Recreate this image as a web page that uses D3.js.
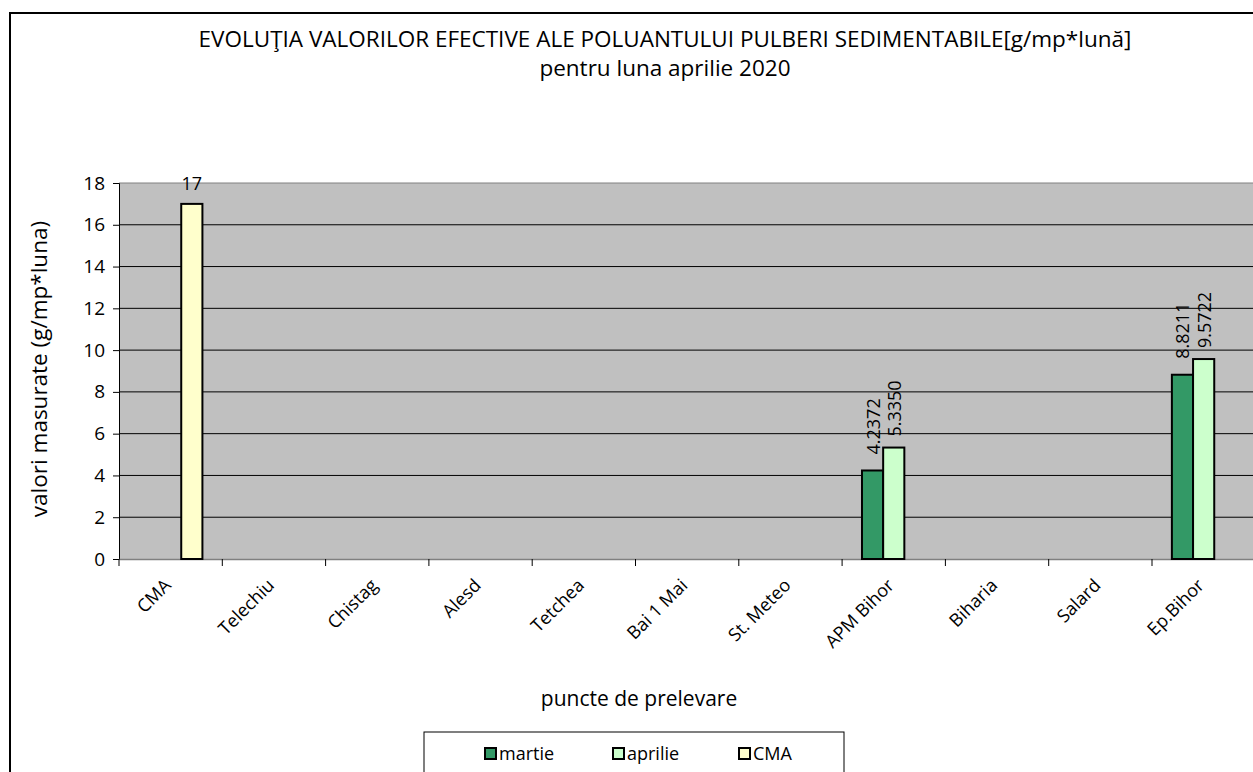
<!DOCTYPE html>
<html>
<head>
<meta charset="utf-8">
<script src="https://cdn.jsdelivr.net/npm/d3@7"></script>
<style>
  body { margin: 0; background: #fff; }
  text { font-family: "Open Sans", sans-serif; fill: #000; }
</style>
</head>
<body>
<svg id="canvas"></svg>
<script>
const width = 1253;
const height = 772;

// data
const categories = ["CMA", "Telechiu", "Chistag", "Alesd", "Tetchea", "Bai 1 Mai",
  "St. Meteo", "APM Bihor", "Biharia", "Salard", "Ep.Bihor"];
const seriesNames = ["martie", "aprilie", "CMA"];
const martie = [null, null, null, null, null, null, null, 4.2372, null, null, 8.8211];
const aprilie = [null, null, null, null, null, null, null, 5.3350, null, null, 9.5722];
const cma = [17, null, null, null, null, null, null, null, null, null, null];
const martieLabels = [null, null, null, null, null, null, null, "4.2372", null, null, "8.8211"];
const aprilieLabels = [null, null, null, null, null, null, null, "5.3350", null, null, "9.5722"];
const cmaLabels = ["17", null, null, null, null, null, null, null, null, null, null];
const yTicks = [0, 2, 4, 6, 8, 10, 12, 14, 16, 18];

const colors = { martie: "#339966", aprilie: "#CCFFCC", CMA: "#FFFFCC" };

const margin = { left: 119, top: 183, bottom: 559 };
const plotRight = margin.left + 103.3 * categories.length;

let canvas = d3.select("#canvas").attr("width", width).attr("height", height);

// outer chart frame
canvas.append("rect")
  .attr("x", 10).attr("y", 13)
  .attr("width", width + 20).attr("height", height + 20)
  .attr("fill", "#fff").attr("stroke", "#000").attr("stroke-width", 2);

const x = d3.scaleBand().domain(categories).range([margin.left, plotRight]);
const y = d3.scaleLinear().domain([0, 18]).range([margin.bottom, margin.top]);
const barW = x.bandwidth() * 0.205;
const xs = d3.scaleBand().domain(seriesNames)
  .range([0, barW * 3]);
const groupOffset = (x.bandwidth() - barW * 3) / 2;

// plot area
canvas.append("rect")
  .attr("x", margin.left).attr("y", margin.top)
  .attr("width", plotRight - margin.left).attr("height", margin.bottom - margin.top)
  .attr("fill", "#C0C0C0");

canvas.append("g")
  .selectAll("line")
  .data(yTicks.slice(1))
  .enter()
  .append("line")
  .attr("x1", margin.left).attr("x2", plotRight)
  .attr("y1", d => y(d)).attr("y2", d => y(d))
  .attr("stroke", d => d === 18 ? "#808080" : "#000")
  .attr("stroke-width", 1);

// y axis
const yAxis = canvas.append("g")
  .attr("transform", `translate(${margin.left},0)`)
  .call(d3.axisLeft(y).tickValues(yTicks).tickSize(6).tickPadding(8));
yAxis.select(".domain").attr("stroke", "#000");
yAxis.selectAll(".tick line").attr("stroke", "#000");
yAxis.selectAll("text").style("font-size", "19px").attr("fill", "#000");

// x axis
const xAxis = canvas.append("g")
  .attr("transform", `translate(0,${margin.bottom})`)
  .call(d3.axisBottom(x).tickSize(0).tickFormat(""));
xAxis.select(".domain").attr("stroke", "#808080").attr("stroke-width", 1.5);

canvas.append("g")
  .selectAll("line")
  .data(categories)
  .enter()
  .append("line")
  .attr("x1", d => x(d)).attr("x2", d => x(d))
  .attr("y1", margin.bottom).attr("y2", margin.bottom + 7)
  .attr("stroke", "#000");

canvas.append("g")
  .selectAll("text")
  .data(categories)
  .enter()
  .append("text")
  .attr("transform", d => `translate(${x(d) + x.bandwidth() / 2 - 3},${margin.bottom + 23}) rotate(-45)`)
  .attr("text-anchor", "end")
  .attr("dy", "0.35em")
  .style("font-size", "18px")
  .text(d => d);

// bars
const series = [
  { name: "martie", values: martie, labels: martieLabels, gap: 16, rotate: true },
  { name: "aprilie", values: aprilie, labels: aprilieLabels, gap: 11, rotate: true },
  { name: "CMA", values: cma, labels: cmaLabels, gap: 14, rotate: false }
];

series.forEach(s => {
  const pts = categories.map((c, i) => ({ c, v: s.values[i], l: s.labels[i] }))
    .filter(d => d.v !== null);
  const bx = d => x(d.c) + groupOffset + xs(s.name);

  canvas.append("g")
    .selectAll("rect")
    .data(pts)
    .enter()
    .append("rect")
    .attr("x", bx)
    .attr("y", d => y(d.v))
    .attr("width", xs.bandwidth())
    .attr("height", d => y(0) - y(d.v))
    .attr("fill", colors[s.name])
    .attr("stroke", "#000")
    .attr("stroke-width", 2);

  canvas.append("g")
    .selectAll("text")
    .data(pts)
    .enter()
    .append("text")
    .style("font-size", "18px")
    .attr("transform", d => s.rotate
      ? `translate(${bx(d) + xs.bandwidth() / 2 + 7},${y(d.v) - s.gap}) rotate(-90)`
      : `translate(${bx(d) + xs.bandwidth() / 2},${y(d.v) - s.gap})`)
    .attr("text-anchor", s.rotate ? "start" : "middle")
    .text(d => d.l);
});

// titles
canvas.append("text")
  .attr("x", 665).attr("y", 47)
  .attr("text-anchor", "middle")
  .style("font-size", "22.5px")
  .text("EVOLUŢIA VALORILOR EFECTIVE ALE POLUANTULUI PULBERI SEDIMENTABILE[g/mp*lună]");
canvas.append("text")
  .attr("x", 665).attr("y", 76)
  .attr("text-anchor", "middle")
  .style("font-size", "22.5px")
  .text("pentru luna  aprilie 2020");

canvas.append("text")
  .attr("transform", "translate(47,369) rotate(-90)")
  .attr("text-anchor", "middle")
  .style("font-size", "22.5px")
  .text("valori masurate (g/mp*luna)");

canvas.append("text")
  .attr("x", 639).attr("y", 706)
  .attr("text-anchor", "middle")
  .style("font-size", "21px")
  .text("puncte de prelevare");

// legend
const legend = canvas.append("g");
legend.append("rect")
  .attr("x", 424).attr("y", 732).attr("width", 420).attr("height", 60)
  .attr("fill", "#fff").attr("stroke", "#000").attr("stroke-width", 1);
const legendX = [485, 613, 739];
seriesNames.forEach((n, i) => {
  legend.append("rect")
    .attr("x", legendX[i]).attr("y", 748).attr("width", 11).attr("height", 11)
    .attr("fill", colors[n]).attr("stroke", "#000").attr("stroke-width", 2);
  legend.append("text")
    .attr("x", legendX[i] + 14).attr("y", 760)
    .style("font-size", "18px")
    .text(n);
});
</script>
</body>
</html>
